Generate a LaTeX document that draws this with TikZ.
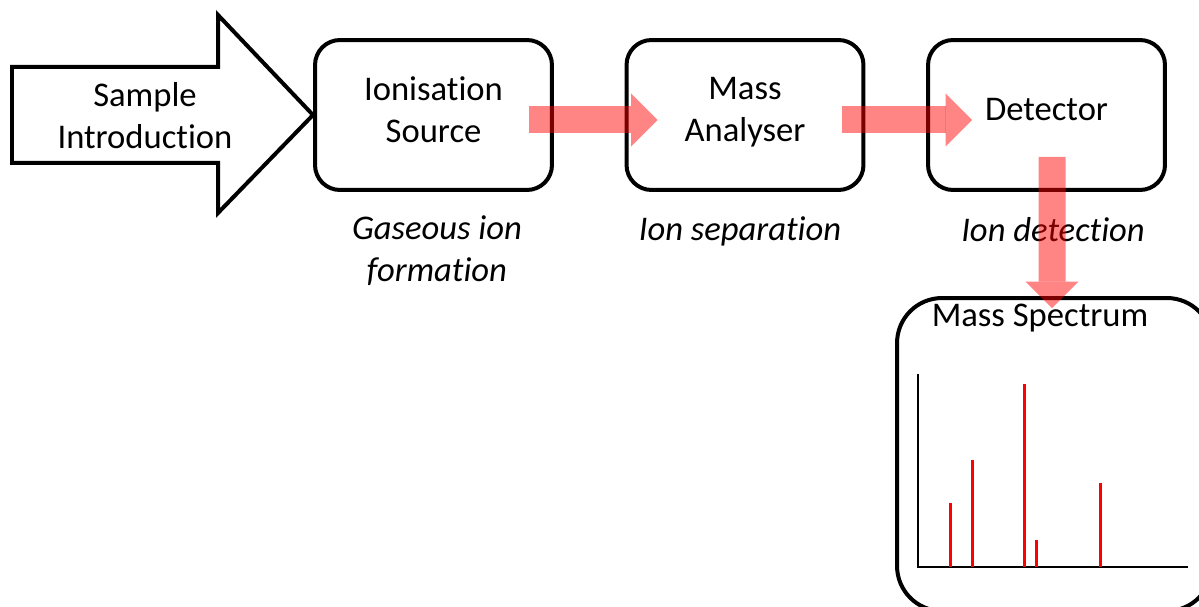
\documentclass[tikz,border=0pt]{standalone}
\usepackage{fontspec}
\setmainfont{Carlito}[Ligatures=NoCommon]
\usetikzlibrary{arrows.meta}
\pgfdeclarelayer{fg}
\pgfsetlayers{main,fg}
\tikzset{
    every node/.style={inner sep=0mm, align=center, font=\fontsize{19.7}{23.8}\selectfont}
}
\tikzset{stage/.style={rectangle, draw, line width=0.08cm, rounded corners=0.5cm, minimum width=4.74cm, minimum height=3cm, text depth=0.21cm}}
\tikzset{note/.style={font=\fontsize{19.7}{23.8}\selectfont\itshape}}
\tikzset{flow/.style={draw=red, opacity=.48, line width=0.54cm, -{Triangle[length=0.53cm, width=1.06cm, line width=0pt]}}}
\tikzset{peak/.style={draw=red, line width=0.06cm}}

\begin{document}
\begin{tikzpicture}[x=0.02cm, y=-0.02cm]
        \useasboundingbox (0,0) rectangle (1199,607);
        \clip (0,0) rectangle (1199,607);
        \draw [line width=0.08cm, miter limit=20] (12,67) -- (218,67) -- (218,15) -- (313,115) -- (218,213) -- (218,163) -- (12,163) -- cycle;
        \node (v0) at (145,116) {Sample\\Introduction};
        \node (v1) [stage] at (433.5,115) {Ionisation\\Source};
        \node (v2) [stage] at (745,115) {Mass\\Analyser};
        \node (v3) [stage] at (1046.5,115) {Detector};
        \node (v4) [note] at (437,251) {Gaseous ion\\formation};
        \node (v5) [note] at (740,231) {Ion separation};
        \node (v6) [note] at (1053,230) {Ion detection};
        \node (v7) [stage, text depth=0pt, rounded corners=0.9cm, minimum width=6.3cm, minimum height=6.26cm] at (1054.5,454.5) {};
        \node (v8) at (1040,318) {Mass Spectrum};
        \draw [line width=0.025cm] (918,374) -- (918,567) -- (1188,567);
        \foreach \x/\h in {950/503, 972/460, 1024/384, 1036/540, 1100/483}
                \draw [peak] (\x,567) -- (\x,\h);
        \begin{pgfonlayer}{fg}
                \draw [flow] ([shift={(-25,5)}]v1.east) -- ([shift={(33,5)}]v2.west);
                \draw [flow] ([shift={(-23.5,5)}]v2.east) -- ([shift={(46,5)}]v3.west);
                \draw [flow] ([shift={(5.5,-35)}]v3.south) -- ([shift={(-2.5,12)}]v7.north);
        \end{pgfonlayer}
\end{tikzpicture}
\end{document}
